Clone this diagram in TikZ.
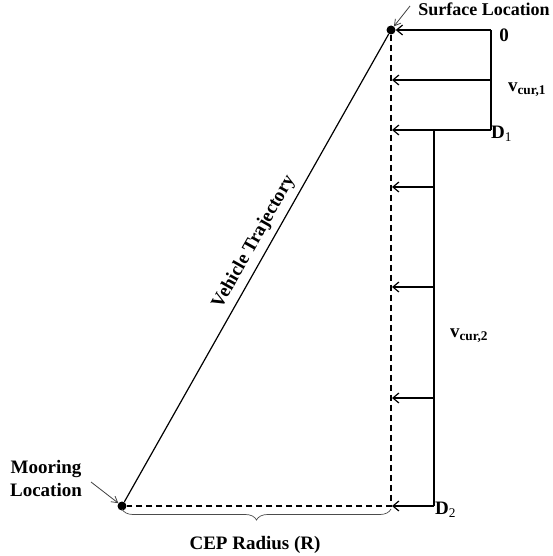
\documentclass[tikz,border=0pt]{standalone}
\usepackage{fontspec}
\setmainfont{Liberation Serif}
\usetikzlibrary{arrows.meta}
\usetikzlibrary{decorations.pathreplacing}

\begin{document}
\begin{tikzpicture}[x=1pt,y=-1pt]
    % Style definitions
    \tikzset{
        bar/.style={black, line width=1.4pt},
        flow/.style={bar, -{Straight Barb[length=6pt,width=10pt,line width=1.2pt]}},
        guide/.style={black, line width=1.3pt, dash pattern=on 6pt off 4pt},
        spot/.style={circle, fill=black, inner sep=0pt, minimum size=9pt},
        lbl/.style={text=black, font=\bfseries\fontsize{19}{23}\selectfont, inner sep=1pt},
        pointer/.style={black!75, line width=0.8pt, -{Straight Barb[length=6pt,width=7pt]}}
    }
    \useasboundingbox (0,0) rectangle (553,556);

    % ==========================================
    % END POINTS AND CEP GUIDES
    % ==========================================
    \node[spot] (surf) at (391,30) {};
    \node[spot] (moor) at (122,506) {};
    \coordinate (corner) at (391,506);
    \draw[guide] (surf) -- (corner) -- (moor);

    % Trajectory:
    \draw[bar, line width=1.2pt] (moor) -- (surf);
    \node[lbl, rotate=60.5] (traj) at (254,242) {Vehicle Trajectory};

    % ==========================================
    % CURRENT LAYERS (0 to D1, D1 to D2)
    % ==========================================
    \coordinate (top) at (491,30);
    \coordinate (d1) at (491,130);
    \coordinate (d1in) at (434,130);
    \coordinate (d2) at (434,506);
    \draw[bar] (top) -- (d1);
    \draw[bar] (d1in) -- (d2);
    \draw[flow] (top) -- (surf.east);
    \foreach \y in {80,130} \draw[flow] (491,\y) -- (392,\y);
    \foreach \y in {187,287,398,506} \draw[flow] (434,\y) -- (392,\y);

    \node[lbl] (zero) at (504,35) {0};
    \node[lbl] (vone) at (527,90) {v\textsubscript{cur,1}};
    \node[lbl, anchor=west] (done) at (490,134) {D\textsubscript{\mdseries 1}};
    \node[lbl] (vtwo) at (469,336) {v\textsubscript{cur,2}};
    \node[lbl, anchor=west] (dtwo) at (434,510) {D\textsubscript{\mdseries 2}};

    % ==========================================
    % LABELS
    % ==========================================
    \node[lbl, font=\bfseries\fontsize{18}{22}\selectfont] (surflbl) at (484,9) {Surface Location};
    \draw[pointer] (410,6) -- (surf);
    \node[lbl, align=center] (moorlbl) at (46,478) {Mooring\\Location};
    \draw[pointer] (91,482) -- (moor);

    % CEP radius brace:
    \draw[black!70, line width=0.7pt, decorate, decoration={brace, mirror, amplitude=11pt}]
        (122,509) -- (391,509);
    \node[lbl] (cep) at (255,545) {CEP Radius (R)};
\end{tikzpicture}
\end{document}
